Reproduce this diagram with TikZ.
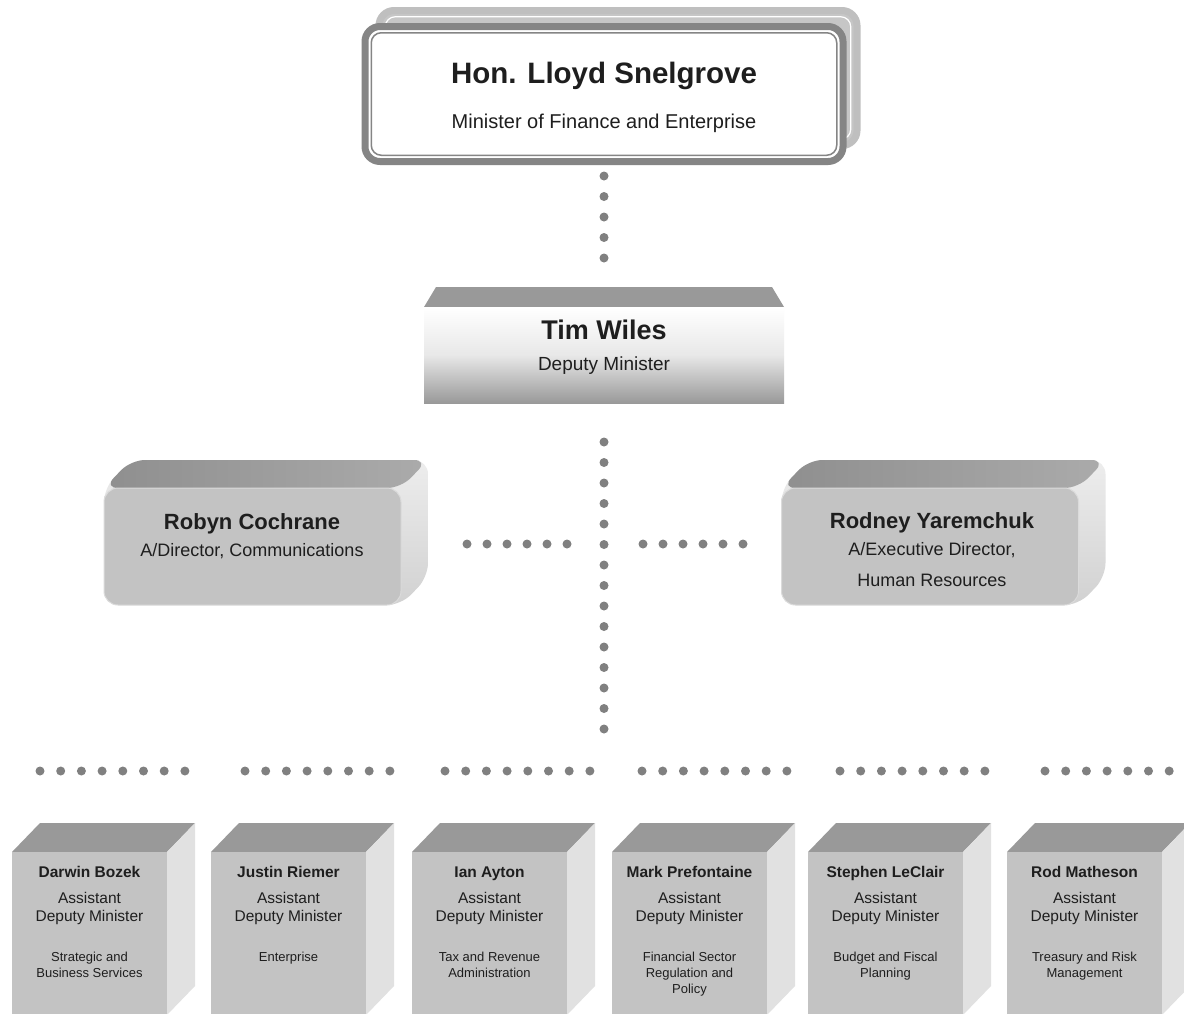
\documentclass[tikz,border=0pt]{standalone}
\usepackage{fontspec}
\setmainfont{Liberation Sans}
\usetikzlibrary{backgrounds}
\definecolor{dotgray}{HTML}{808080}
\definecolor{framegray}{HTML}{858585}
\definecolor{backgray}{HTML}{C6C6C6}
\definecolor{facegray}{HTML}{C3C3C3}
\definecolor{roofgray}{HTML}{999999}
\definecolor{sidegray}{HTML}{E1E1E1}
\definecolor{inkgray}{HTML}{1E1E1E}
\newcommand{\setfs}[2]{\fontsize{#1}{#2}\selectfont}

\begin{document}
\begin{tikzpicture}[x=1pt,y=-1pt,
  dots/.style={draw=dotgray,line width=9pt,line cap=round,dash pattern=on 0pt off #1},
  dots/.default=20.5pt,
  orgframe/.style={draw=framegray,line width=7pt,fill=white,rounded corners=15pt,outer sep=0pt,minimum width=478pt,minimum height=135pt},
  deputy/.style={top color=white,bottom color=black!40,middle color=black!9,outer sep=0pt,minimum width=360pt,minimum height=96pt},
  staff/.style={fill=facegray,draw=black!14,line width=1pt,rounded corners=14pt,outer sep=0pt,minimum width=297pt,minimum height=117pt},
  staffroof/.style={left color=black!44,right color=black!33},
  staffside/.style={top color=black!7,bottom color=black!18},
  cubeface/.style={fill=facegray,anchor=north west,outer sep=0pt,minimum width=155pt,minimum height=163pt},
  cuberoof/.style={fill=roofgray},
  cubeside/.style={fill=sidegray},
  txt/.style={text=inkgray,inner sep=0pt,anchor=base},
  block/.style={text=inkgray,inner sep=0pt,anchor=north,align=center}]
\useasboundingbox (0,0) rectangle (1184,1013);

\node[orgframe] (minister) at (604,94) {};
\draw[framegray,line width=1.5pt,rounded corners=10pt] ([shift={(6.25,6.25)}]minister.north west) rectangle ([shift={(-6.25,-6.25)}]minister.south east);
\node[txt,font=\setfs{29.5}{34}\bfseries] (ministername) at (604,83.5) {Hon. Lloyd Snelgrove};
\node[txt,font=\setfs{20}{24}] (ministerrole) at (604,128.3) {Minister of Finance and Enterprise};

\node[deputy] (tim) at (604,355) {};
\node[txt,font=\setfs{27}{31}\bfseries] (timname) at (604,339.3) {Tim Wiles};
\node[txt,font=\setfs{19}{23}] (timrole) at (604,370) {Deputy Minister};

\node[staff] (robyn) at (252.5,546.5) {};
\node[txt,font=\setfs{22}{26}\bfseries] (robynname) at (252,529.6) {Robyn Cochrane};
\node[txt,font=\setfs{18}{22}] (robynrole) at (252,556.4) {A/Director, Communications};

\node[staff] (rodney) at (930,546.5) {};
\node[txt,font=\setfs{22}{26}\bfseries] (rodneyname) at (932,528) {Rodney Yaremchuk};
\node[block,font=\setfs{18}{30.7}] (rodneyrole) at (932,542.7) {A/Executive Director,\\Human Resources};

% dotted links
\coordinate (hub) at (604,544);
\coordinate (stem) at (604,730);
\draw[dots] ([yshift=-14.5pt]minister.south) -- ([yshift=48pt]tim.north);
\draw[dots] ([yshift=-39pt]tim.south) -- (stem);
\draw[dots=20pt] ([xshift=-137pt]hub) -- ([xshift=-36pt]hub);
\draw[dots=20pt] ([xshift=39pt]hub) -- ([xshift=140pt]hub);

\foreach \i/\x/\dx/\who/\unit in {
  1/12/28/Darwin Bozek/{Strategic and\\Business Services},
  2/211/34/Justin Riemer/{Enterprise},
  3/412/33/Ian Ayton/{Tax and Revenue\\Administration},
  4/612/30/Mark Prefontaine/{Financial Sector\\Regulation and\\Policy},
  5/808/32/Stephen LeClair/{Budget and Fiscal\\Planning},
  6/1007/38/Rod Matheson/{Treasury and Risk\\Management}} {
  \node[cubeface] (adm\i) at (\x,852) {};
  \node[txt,font=\setfs{15.5}{18}\bfseries] (who\i) at ([yshift=-25.3pt]adm\i.north) {\who};
  \node[block,font=\setfs{15.5}{18}] (title\i) at ([yshift=-40.4pt]adm\i.north) {Assistant\\Deputy Minister};
  \node[block,font=\setfs{13}{16}] (unit\i) at ([yshift=-100pt]adm\i.north) {\unit};
  \draw[dots=20.7pt] ([xshift=\dx,yshift=81pt]adm\i.north west) -- ++(146,0);
}

\begin{scope}[on background layer]
  \fill[white] (0,0) rectangle (1184,1013);
  \draw[draw=black!25,fill=backgray,line width=7pt,rounded corners=15pt] ([shift={(14,-16)}]minister.north west) rectangle ([shift={(14,-16)}]minister.south east);
  \draw[white,line width=1.2pt,rounded corners=10pt] ([shift={(20.25,-9.75)}]minister.north west) rectangle ([shift={(7.75,-22.25)}]minister.south east);
  \fill[roofgray] (tim.north west) -- ++(12,-20) -- ([shift={(-12,-20)}]tim.north east) -- (tim.north east) -- cycle;
  \foreach \n in {robyn,rodney} {
    \shade[staffside,rounded corners=14pt] (\n.south west) -- (\n.north west) -- ++(27,-28) -- ([shift={(27,-28)}]\n.north east) -- ([shift={(27,-28)}]\n.south east) -- (\n.south east) -- cycle;
    \shade[staffroof,rounded corners=14pt] (\n.north west) -- ++(27,-28) -- ([shift={(27,-28)}]\n.north east) -- (\n.north east) -- cycle;
  }
  \foreach \i in {1,...,6} {
    \fill[cuberoof] (adm\i.north west) -- ++(28,-29) -- ([shift={(28,-29)}]adm\i.north east) -- (adm\i.north east) -- cycle;
    \fill[cubeside] (adm\i.north east) -- ++(28,-29) -- ([shift={(28,-29)}]adm\i.south east) -- (adm\i.south east) -- cycle;
  }
\end{scope}
\end{tikzpicture}
\end{document}
